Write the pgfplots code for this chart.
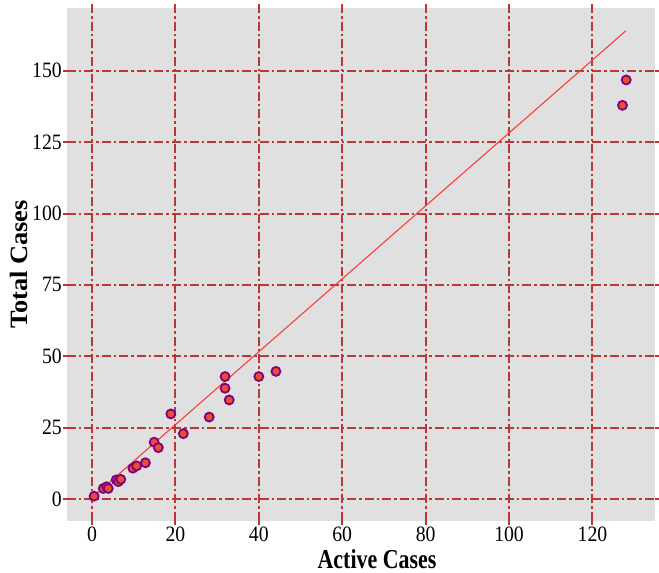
\documentclass[border=0pt]{standalone}
\usepackage{pgfplots}
\pgfplotsset{compat=1.18}
\usepackage{fontspec}
\setmainfont{Liberation Serif}
\newfontfamily\tickfont[FakeStretch=0.9]{Liberation Serif}
\newfontfamily\xlabfont[FakeStretch=0.8]{Liberation Serif}
\newfontfamily\ylabfont[FakeStretch=1.06]{Liberation Serif}
\definecolor{gridred}{RGB}{185,55,55}
\definecolor{bggray}{RGB}{224,224,224}
\definecolor{ptfill}{RGB}{232,80,45}
\definecolor{ptedge}{RGB}{128,0,128}
\definecolor{fitred}{RGB}{255,60,60}
\begin{document}
\begin{tikzpicture}
\path[use as bounding box] (-67bp,-52bp) rectangle (592bp,521bp);
\begin{axis}[
  scale only axis,
  width=588bp, height=513bp,
  xmin=-6, xmax=135, ymin=-7.7, ymax=172,
  xtick={0,20,40,60,80,100,120},
  ytick={0,25,50,75,100,125,150},
  axis line style={draw=none},
  axis background/.style={fill=bggray},
  grid=major,
  major grid style={draw=gridred, line width=2bp, dash pattern=on 9bp off 3bp on 2.5bp off 3bp},
  tick align=outside,
  major tick length=4bp,
  every tick/.style={draw=gridred, line width=2bp},
  /pgf/number format/assume math mode=true,
  tick label style={font=\tickfont\fontsize{22}{24}\selectfont},
  xticklabel style={inner sep=1bp, yshift=-1bp},
  yticklabel style={inner sep=1bp},
  xlabel={Active Cases},
  ylabel={Total Cases},
  xlabel style={font=\xlabfont\bfseries\fontsize{27.5}{30}\selectfont, at={(ticklabel cs:0.5)}, anchor=north, yshift=-3bp, xshift=16bp},
  ylabel style={font=\ylabfont\bfseries\fontsize{25}{28}\selectfont, at={(ticklabel cs:0.5)}, anchor=south, yshift=-0.5bp},
  clip=false,
]
\addplot[fitred, line width=1.1bp] coordinates {(0,0.5) (128,164)};
\addplot[only marks, mark=*, mark size=4.5bp,
  mark options={fill=ptfill, draw=ptedge, line width=1.8bp}]
coordinates {
(0.5,1) (2.7,3.7) (3.5,4.3) (3.9,3.7) (5.8,6.7) (6.3,6.1) (6.9,6.9)
(9.8,10.8) (10.7,11.6) (12.8,12.7) (14.9,19.9) (15.9,18) (18.9,29.8)
(21.9,22.9) (28.1,28.7) (31.9,42.9) (31.9,38.8) (32.9,34.7) (40,42.9)
(44.1,44.7) (127.2,137.9) (128.1,146.8)
};
\end{axis}
\end{tikzpicture}
\end{document}
